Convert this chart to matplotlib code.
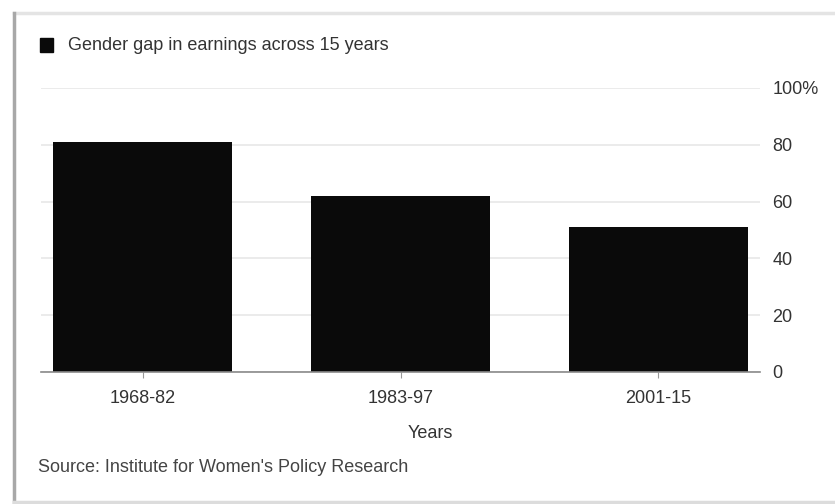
import matplotlib.pyplot as plt
from matplotlib.lines import Line2D
from matplotlib.patches import Rectangle

# chart data
periods = ["1968-82", "1983-97", "2001-15"]
gap_pct = [81, 62, 51]
y_ticks = [0, 20, 40, 60, 80, 100]
y_labels = ["0", "20", "40", "60", "80", "100%"]

plt.rcParams['font.family'] = ['Liberation Sans', 'DejaVu Sans']

W, H = 835, 504
FS = 13
fig = plt.figure(figsize=(W / 100, H / 100), dpi=100)

def fx(px):
    return px / W

def fy(py):
    return 1 - py / H

# card frame
fig.add_artist(Line2D([fx(14), fx(835)], [fy(13), fy(13)], color="#e4e4e4", lw=2.5))
fig.add_artist(Line2D([fx(14), fx(14)], [fy(13), fy(502)], color="#a8a8a8", lw=2.5))
fig.add_artist(Line2D([fx(14), fx(835)], [fy(502), fy(502)], color="#dcdcdc", lw=2.5))

ax = fig.add_axes([fx(41), fy(372), fx(760) - fx(41), fy(88) - fy(372)])

x = range(len(periods))
ax.bar(x, gap_pct, width=0.695, color="#0a0a0a", zorder=3)
ax.set_xlim(-0.396, 2.396)
ax.set_ylim(0, 100)

ax.yaxis.tick_right()
ax.set_yticks(y_ticks)
ax.set_yticklabels(y_labels)
ax.tick_params(axis="y", length=0, pad=9, labelsize=FS, colors="#333333")
ax.set_xticks(list(x))
ax.set_xticklabels(periods)
ax.tick_params(axis="x", length=4, width=0.8, color="#999999", pad=9,
               labelsize=FS, labelcolor="#333333")

ax.grid(axis="y", color="#e8e8e8", lw=1.2, zorder=0)
for s in ["top", "right", "left"]:
    ax.spines[s].set_visible(False)
ax.spines["bottom"].set_color("#8a8a8a")
ax.spines["bottom"].set_linewidth(1.2)
ax.spines["bottom"].set_zorder(4)

# legend
fig.add_artist(Rectangle((fx(40), fy(52)), fx(13), fy(38) - fy(52),
                         color="#0a0a0a", transform=fig.transFigure))
fig.text(fx(68), fy(45), "Gender gap in earnings across 15 years", fontsize=FS,
         color="#333333", va="center", ha="left")

fig.text(fx(430), fy(434), "Years", fontsize=FS, color="#333333",
         va="center", ha="center")
fig.text(fx(38), fy(467), "Source: Institute for Women's Policy Research", fontsize=FS,
         color="#444444", va="center", ha="left")

fig.savefig("out.png", dpi=100)
